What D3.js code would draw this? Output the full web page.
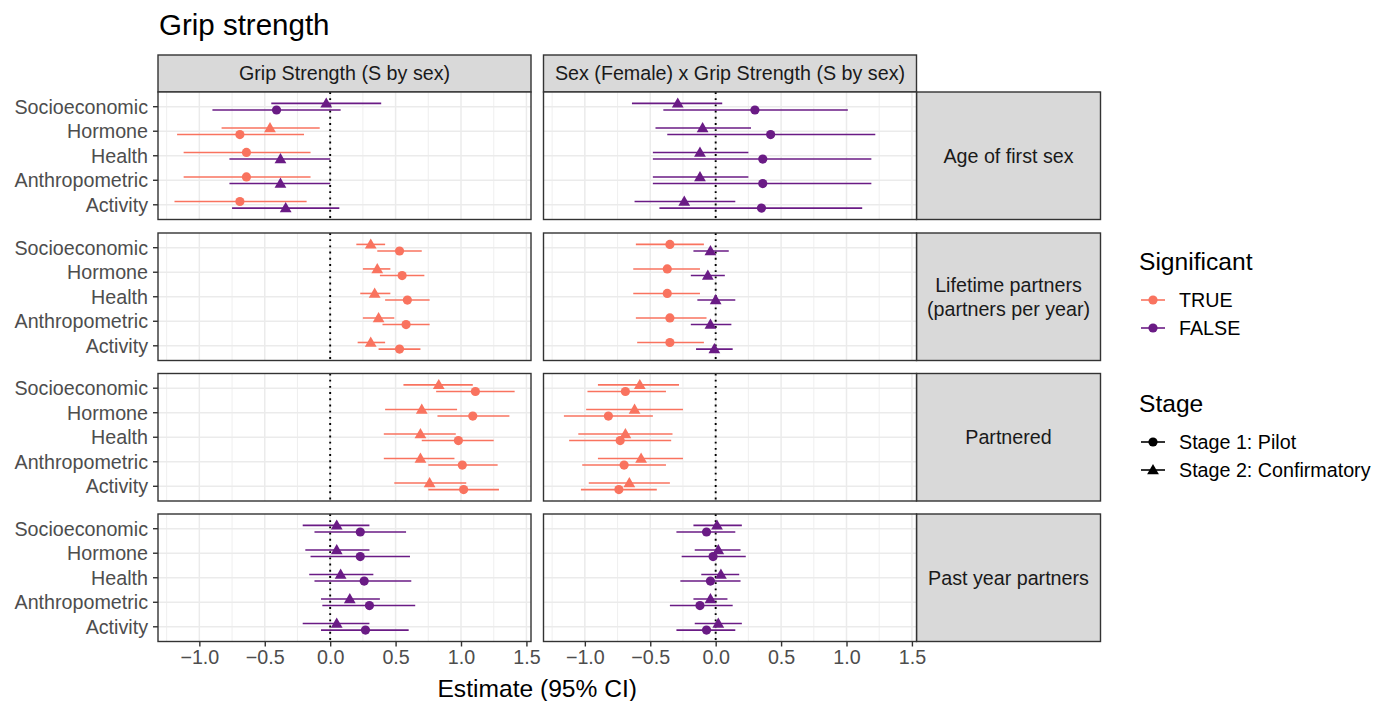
<!DOCTYPE html>
<html>
<head>
<meta charset="utf-8">
<script src="https://cdn.jsdelivr.net/npm/d3@7"></script>
<style>
  body { margin: 0; background: #fff; }
  text { font-family: "Liberation Sans", Arial, Helvetica, sans-serif; }
</style>
</head>
<body>
<div class="chart"></div>
<script>
// facets and categories
var predictors = ["Socioeconomic", "Hormone", "Health", "Anthropometric", "Activity"];
var terms = ["Grip Strength (S by sex)", "Sex (Female) x Grip Strength (S by sex)"];
var outcomes = [["Age of first sex"], ["Lifetime partners", "(partners per year)"], ["Partnered"], ["Past year partners"]];
var xTicks = [-1, -0.5, 0, 0.5, 1, 1.5];
var xMinor = [-1.25, -0.75, -0.25, 0.25, 0.75, 1.25];

// Stage 1: Pilot  -- one row per outcome: 5 predictors for term 1, then 5 for term 2
var pilotEst = [
  [-0.41, -0.69, -0.64, -0.64, -0.69,   0.30,  0.42,  0.36,  0.36,  0.35],
  [ 0.53,  0.55,  0.59,  0.58,  0.53,  -0.35, -0.37, -0.37, -0.35, -0.35],
  [ 1.11,  1.09,  0.98,  1.01,  1.02,  -0.69, -0.82, -0.73, -0.70, -0.74],
  [ 0.23,  0.23,  0.26,  0.30,  0.27,  -0.07, -0.02, -0.04, -0.12, -0.07]
];
var pilotLo = [
  [-0.90, -1.17, -1.12, -1.12, -1.19,  -0.40, -0.37, -0.48, -0.48, -0.43],
  [ 0.36,  0.38,  0.42,  0.40,  0.37,  -0.61, -0.63, -0.63, -0.61, -0.60],
  [ 0.81,  0.82,  0.70,  0.75,  0.75,  -0.98, -1.16, -1.12, -1.02, -1.03],
  [-0.12, -0.15, -0.12, -0.06, -0.07,  -0.30, -0.26, -0.27, -0.35, -0.30]
];
var pilotHi = [
  [ 0.08, -0.20, -0.15, -0.15, -0.18,   1.01,  1.22,  1.19,  1.19,  1.12],
  [ 0.70,  0.72,  0.76,  0.76,  0.69,  -0.09, -0.12, -0.12, -0.07, -0.09],
  [ 1.41,  1.37,  1.25,  1.28,  1.29,  -0.38, -0.48, -0.34, -0.38, -0.45],
  [ 0.58,  0.61,  0.62,  0.65,  0.60,   0.15,  0.23,  0.19,  0.13,  0.15]
];
var pilotSig = [
  [false, true, true, true, true,   false, false, false, false, false],
  [true, true, true, true, true,    true, true, true, true, true],
  [true, true, true, true, true,    true, true, true, true, true],
  [false, false, false, false, false, false, false, false, false, false]
];

// Stage 2: Confirmatory
var confEst = [
  [-0.03, -0.46, -0.38, -0.38, -0.34,  -0.29, -0.10, -0.12, -0.12, -0.24],
  [ 0.31,  0.36,  0.34,  0.37,  0.31,  -0.04, -0.06,  0.00, -0.04, -0.01],
  [ 0.83,  0.70,  0.69,  0.69,  0.76,  -0.58, -0.62, -0.69, -0.57, -0.66],
  [ 0.05,  0.05,  0.08,  0.15,  0.05,   0.01,  0.02,  0.04, -0.04,  0.02]
];
var confLo = [
  [-0.45, -0.83, -0.77, -0.77, -0.75,  -0.64, -0.46, -0.48, -0.48, -0.62],
  [ 0.20,  0.25,  0.23,  0.25,  0.21,  -0.17, -0.19, -0.14, -0.19, -0.15],
  [ 0.56,  0.42,  0.41,  0.41,  0.49,  -0.90, -0.99, -1.05, -0.90, -0.97],
  [-0.21, -0.19, -0.16, -0.07, -0.21,  -0.17, -0.16, -0.11, -0.17, -0.16]
];
var confHi = [
  [ 0.39, -0.08,  0.00,  0.00,  0.07,   0.05,  0.27,  0.25,  0.25,  0.15],
  [ 0.42,  0.46,  0.46,  0.49,  0.42,   0.10,  0.07,  0.15,  0.12,  0.13],
  [ 1.09,  0.97,  0.96,  0.95,  1.04,  -0.28, -0.25, -0.33, -0.25, -0.35],
  [ 0.30,  0.30,  0.33,  0.38,  0.30,   0.20,  0.19,  0.18,  0.09,  0.20]
];
var confSig = [
  [false, true, false, false, false,  false, false, false, false, false],
  [true, true, true, true, true,      false, false, false, false, false],
  [true, true, true, true, true,      true, true, true, true, true],
  [false, false, false, false, false, false, false, false, false, false]
];

var colTrue = "#F9735F", colFalse = "#6A1B85";
var color = function(sig) { return sig ? colTrue : colFalse; };

var panelW = 373, panelH = 127.5;
var colX = [158, 543.5];
var rowY = [92, 233, 373.5, 514];
var stripH = 37, sideStripW = 184;
var small = "19.7px", base = "24.6px";

var svg = d3.select("body div.chart").append("svg")
    .attr("width", 1387).attr("height", 701);

var x = d3.scaleLinear().domain([-1.316, 1.535]).range([0, panelW]);
var y = d3.scalePoint().domain(predictors).range([0, panelH]).padding(0.6);
var dodge = 3.3;

svg.append("text").attr("x", 159).attr("y", 35)
    .style("font-size", "29.5px").attr("fill", "#000").text("Grip strength");

// top strips
terms.forEach(function(t, j) {
    var g = svg.append("g").attr("transform", "translate(" + colX[j] + "," + (rowY[0] - stripH) + ")");
    g.append("rect").attr("width", panelW).attr("height", stripH)
        .attr("fill", "#D9D9D9").attr("stroke", "#333").attr("stroke-width", 1.4);
    g.append("text").attr("x", panelW / 2).attr("y", stripH / 2).attr("dy", "0.35em")
        .attr("text-anchor", "middle").style("font-size", small).attr("fill", "#1A1A1A").text(t);
});

// right strips
outcomes.forEach(function(lines, i) {
    var g = svg.append("g").attr("transform", "translate(" + (colX[1] + panelW) + "," + rowY[i] + ")");
    g.append("rect").attr("width", sideStripW).attr("height", panelH)
        .attr("fill", "#D9D9D9").attr("stroke", "#333").attr("stroke-width", 1.4);
    var txt = g.append("text").attr("text-anchor", "middle").style("font-size", small).attr("fill", "#1A1A1A");
    lines.forEach(function(l, k) {
        txt.append("tspan").attr("x", sideStripW / 2)
            .attr("y", panelH / 2 + (k - (lines.length - 1) / 2) * 24)
            .attr("dy", "0.35em").text(l);
    });
});

outcomes.forEach(function(o, i) {
    terms.forEach(function(t, j) {
        var g = svg.append("g").attr("transform", "translate(" + colX[j] + "," + rowY[i] + ")");
        g.append("rect").attr("width", panelW).attr("height", panelH).attr("fill", "#fff");

        g.selectAll(".minor").data(xMinor).enter().append("line")
            .attr("x1", function(d) { return x(d); }).attr("x2", function(d) { return x(d); })
            .attr("y1", 0).attr("y2", panelH).attr("stroke", "#EBEBEB").attr("stroke-width", 0.8);
        g.selectAll(".majorx").data(xTicks).enter().append("line")
            .attr("x1", function(d) { return x(d); }).attr("x2", function(d) { return x(d); })
            .attr("y1", 0).attr("y2", panelH).attr("stroke", "#EBEBEB").attr("stroke-width", 1.5);
        g.selectAll(".majory").data(predictors).enter().append("line")
            .attr("x1", 0).attr("x2", panelW)
            .attr("y1", function(d) { return y(d); }).attr("y2", function(d) { return y(d); })
            .attr("stroke", "#EBEBEB").attr("stroke-width", 1.5);

        g.append("line").attr("x1", x(0)).attr("x2", x(0)).attr("y1", 0).attr("y2", panelH)
            .attr("stroke", "#000").attr("stroke-width", 1.9).attr("stroke-dasharray", "1.9,4.3");

        // build points for this panel
        var pts = [];
        predictors.forEach(function(p, k) {
            var idx = j * 5 + k;
            pts.push({p: p, stage: 1, est: pilotEst[i][idx], lo: pilotLo[i][idx], hi: pilotHi[i][idx], sig: pilotSig[i][idx]});
            pts.push({p: p, stage: 2, est: confEst[i][idx], lo: confLo[i][idx], hi: confHi[i][idx], sig: confSig[i][idx]});
        });
        // dodge: group rank by significance then stage, lower rank sits lower
        pts.forEach(function(d) { d.rank = (d.sig ? 2 : 0) + (d.stage === 2 ? 1 : 0); });
        predictors.forEach(function(p) {
            var pair = pts.filter(function(d) { return d.p === p; });
            pair.sort(function(a, b) { return a.rank - b.rank; });
            pair[0].off = dodge; pair[1].off = -dodge;
        });

        g.selectAll(".ci").data(pts).enter().append("line")
            .attr("x1", function(d) { return x(d.lo); }).attr("x2", function(d) { return x(d.hi); })
            .attr("y1", function(d) { return y(d.p) + d.off; }).attr("y2", function(d) { return y(d.p) + d.off; })
            .attr("stroke", function(d) { return color(d.sig); }).attr("stroke-width", 1.6);

        g.selectAll(".dot").data(pts.filter(function(d) { return d.stage === 1; })).enter().append("circle")
            .attr("cx", function(d) { return x(d.est); }).attr("cy", function(d) { return y(d.p) + d.off; })
            .attr("r", 4.6).attr("fill", function(d) { return color(d.sig); });
        g.selectAll(".tri").data(pts.filter(function(d) { return d.stage === 2; })).enter().append("path")
            .attr("d", d3.symbol().type(d3.symbolTriangle).size(60))
            .attr("transform", function(d) { return "translate(" + x(d.est) + "," + (y(d.p) + d.off + 0.8) + ")"; })
            .attr("fill", function(d) { return color(d.sig); });

        g.append("rect").attr("width", panelW).attr("height", panelH)
            .attr("fill", "none").attr("stroke", "#333").attr("stroke-width", 1.4);

        if (j === 0) {
            g.selectAll(".ytick").data(predictors).enter().append("line")
                .attr("x1", -5).attr("x2", 0)
                .attr("y1", function(d) { return y(d); }).attr("y2", function(d) { return y(d); })
                .attr("stroke", "#333").attr("stroke-width", 1.4);
            g.selectAll(".ylab").data(predictors).enter().append("text")
                .attr("x", -10).attr("y", function(d) { return y(d); }).attr("dy", "0.35em")
                .attr("text-anchor", "end").style("font-size", small).attr("fill", "#4D4D4D")
                .text(function(d) { return d; });
        }
        if (i === outcomes.length - 1) {
            var ax = g.append("g").attr("transform", "translate(0," + panelH + ")")
                .call(d3.axisBottom(x).tickValues(xTicks).tickFormat(d3.format(".1f")).tickSize(5).tickPadding(4));
            ax.select(".domain").remove();
            ax.selectAll(".tick line").attr("stroke", "#333").attr("stroke-width", 1.4);
            ax.selectAll(".tick text").style("font-size", small).attr("fill", "#4D4D4D")
                .style("font-family", "Liberation Sans, Arial, sans-serif");
        }
    });
});

svg.append("text").attr("x", (colX[0] + colX[1] + panelW) / 2).attr("y", 697)
    .attr("text-anchor", "middle").style("font-size", base).attr("fill", "#000").text("Estimate (95% CI)");

// legends
var sigLevels = [true, false];
var stageLevels = ["Stage 1: Pilot", "Stage 2: Confirmatory"];
var lg = svg.append("g");
lg.append("text").attr("x", 1139).attr("y", 270).style("font-size", base).text("Significant");
sigLevels.forEach(function(s, k) {
    var cy = 300 + k * 28;
    lg.append("line").attr("x1", 1141).attr("x2", 1165).attr("y1", cy).attr("y2", cy)
        .attr("stroke", color(s)).attr("stroke-width", 1.6);
    lg.append("circle").attr("cx", 1153).attr("cy", cy).attr("r", 4.6).attr("fill", color(s));
    lg.append("text").attr("x", 1179).attr("y", cy).attr("dy", "0.35em").style("font-size", small)
        .text(s ? "TRUE" : "FALSE");
});
lg.append("text").attr("x", 1139).attr("y", 412).style("font-size", base).text("Stage");
stageLevels.forEach(function(s, k) {
    var cy = 442 + k * 28;
    lg.append("line").attr("x1", 1141).attr("x2", 1165).attr("y1", cy).attr("y2", cy)
        .attr("stroke", "#000").attr("stroke-width", 1.6);
    if (k === 0) {
        lg.append("circle").attr("cx", 1153).attr("cy", cy).attr("r", 4.6).attr("fill", "#000");
    } else {
        lg.append("path").attr("d", d3.symbol().type(d3.symbolTriangle).size(60))
            .attr("transform", "translate(1153," + (cy + 0.8) + ")").attr("fill", "#000");
    }
    lg.append("text").attr("x", 1179).attr("y", cy).attr("dy", "0.35em").style("font-size", small).text(s);
});
</script>
</body>
</html>
